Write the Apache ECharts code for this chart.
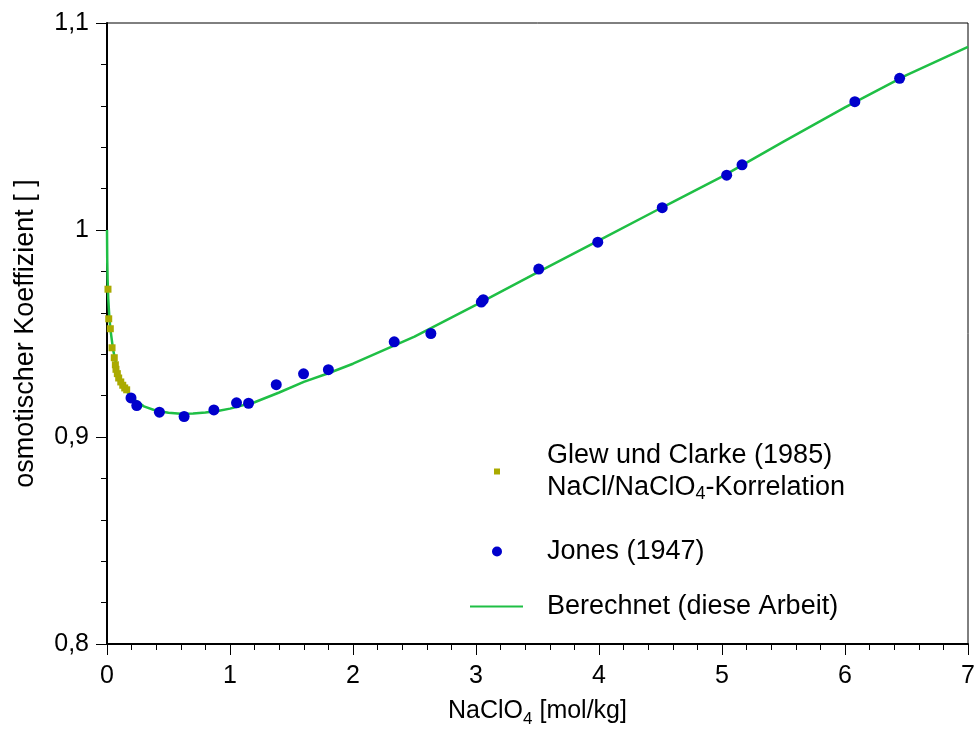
<!DOCTYPE html>
<html>
<head>
<meta charset="utf-8">
<script src="https://cdn.jsdelivr.net/npm/echarts@6/dist/echarts.min.js"></script>
<style>html,body{margin:0;padding:0;background:#fff}#c{width:979px;height:733px}</style>
</head>
<body>
<div id="c"></div>
<script>
// Glew und Clarke (1985) NaCl/NaClO4-Korrelation
const glewX = [0.008, 0.014, 0.027, 0.041, 0.059, 0.068, 0.073, 0.084, 0.095, 0.112, 0.128, 0.144, 0.160];
const glewY = [0.9714, 0.9571, 0.9523, 0.9431, 0.9383, 0.9349, 0.9327, 0.9306, 0.9285, 0.9266, 0.9250, 0.9237, 0.9228];
// Jones (1947)
const jonesX = [0.195, 0.242, 0.426, 0.627, 0.869, 1.053, 1.151, 1.376, 1.598, 1.800, 2.335, 2.633, 3.043, 3.059, 3.510, 3.990, 4.514, 5.038, 5.163, 6.080, 6.444];
const jonesY = [0.9189, 0.9152, 0.9120, 0.9099, 0.9131, 0.9165, 0.9163, 0.9253, 0.9305, 0.9325, 0.9460, 0.9500, 0.9652, 0.9663, 0.9811, 0.9941, 1.0108, 1.0265, 1.0315, 1.0620, 1.0733];
// Berechnet (diese Arbeit)
const calcX = [0, 0.002, 0.005, 0.01, 0.02, 0.03, 0.05, 0.075, 0.1, 0.15, 0.2, 0.3, 0.4, 0.5, 0.6, 0.7, 0.8, 0.9, 1.0, 1.2, 1.4, 1.6, 1.8, 2.0, 2.5, 3.0, 3.5, 4.0, 4.5, 5.0, 5.5, 6.0, 6.5, 7.0];
const calcY = [1.0, 0.985, 0.976, 0.967, 0.957, 0.951, 0.942, 0.935, 0.929, 0.923, 0.919, 0.9148, 0.9127, 0.9117, 0.9112, 0.9113, 0.9118, 0.9126, 0.9137, 0.9168, 0.9215, 0.9266, 0.9308, 0.9354, 0.9485, 0.9638, 0.9795, 0.9950, 1.0105, 1.0258, 1.0427, 1.0592, 1.0748, 1.0885];

const FONT = '"Liberation Sans", Arial, sans-serif';
const FS = 25;
const LFS = 27;
const zip = (a, b) => a.map((v, i) => [v, b[i]]);
function richFor(gap) {
  return {
    g: { width: gap, height: 10 },
    n: { fontSize: LFS, fontFamily: FONT, color: '#000', lineHeight: 32, verticalAlign: 'middle' },
    s: { fontSize: 18, fontFamily: FONT, color: '#000', lineHeight: 18, verticalAlign: 'bottom' }
  };
}
const legendNames = {
  'Glew und Clarke (1985)': '{g|}{n|Glew und Clarke (1985)}\n{g|}{n|NaCl/NaClO}{s|4}{n|-Korrelation}',
  'Jones (1947)': '{g|}{n|Jones (1947)}',
  'Berechnet (diese Arbeit)': '{g|}{n|Berechnet (diese Arbeit)}'
};
function mkLegend(name, icon, left, top, w, h, gap) {
  return {
    data: [{ name: name, icon: icon }], left: left, top: top, orient: 'vertical', padding: 0,
    itemWidth: w, itemHeight: h, selectedMode: false,
    formatter: n => legendNames[n],
    textStyle: { fontSize: LFS, fontFamily: FONT, color: '#000', rich: richFor(gap) }
  };
}
const chart = echarts.init(document.getElementById('c'), null, { renderer: 'canvas' });
chart.setOption({
  animation: false,
  backgroundColor: '#fff',
  grid: { left: 107, right: 11, top: 23, bottom: 87, show: true, borderColor: '#000', borderWidth: 1 },
  legend: [
    mkLegend('Glew und Clarke (1985)', 'rect', 494, 442, 6, 6, 42),
    mkLegend('Jones (1947)', 'circle', 492, 538, 10, 10, 40),
    mkLegend('Berechnet (diese Arbeit)', 'rect', 470, 593, 53, 2, 19)
  ],
  xAxis: {
    type: 'value', min: 0, max: 7, interval: 1,
    name: '{n|NaClO}{s|4}{n| [mol/kg]}', nameLocation: 'middle', nameGap: 50,
    nameTextStyle: { rich: { n: { fontSize: FS, fontFamily: FONT, color: '#000', lineHeight: 34, verticalAlign: 'middle' }, s: { fontSize: 17, fontFamily: FONT, color: '#000', lineHeight: 17, verticalAlign: 'bottom' } } },
    axisLine: { lineStyle: { color: '#000', width: 2 } },
    axisTick: { length: 11, lineStyle: { color: '#000', width: 1 } },
    minorTick: { show: true, splitNumber: 5, length: 6, lineStyle: { color: '#000', width: 1 } },
    splitLine: { show: false },
    axisLabel: { fontSize: FS, fontFamily: FONT, color: '#000', margin: 20 }
  },
  yAxis: {
    type: 'value', min: 0.8, max: 1.1, interval: 0.1,
    name: 'osmotischer Koeffizient [ ]', nameLocation: 'middle', nameGap: 68,
    nameTextStyle: { fontSize: LFS, fontFamily: FONT, color: '#000' },
    axisLine: { show: true, lineStyle: { color: '#000', width: 2 } },
    axisTick: { show: true, length: 11, lineStyle: { color: '#000', width: 1 } },
    minorTick: { show: true, splitNumber: 5, length: 6, lineStyle: { color: '#000', width: 1 } },
    splitLine: { show: false },
    axisLabel: { fontSize: FS, fontFamily: FONT, color: '#000', margin: 18,
      formatter: v => (Math.round(v * 10) / 10).toString().replace('.', ',') }
  },
  series: [
    { name: 'Berechnet (diese Arbeit)', type: 'line', data: zip(calcX, calcY), showSymbol: false, symbol: 'none',
      smooth: false,
      lineStyle: { color: '#1fbf45', width: 2.5 }, itemStyle: { color: '#1fbf45' }, z: 2 },
    { name: 'Glew und Clarke (1985)', type: 'scatter', data: zip(glewX, glewY), symbol: 'rect', symbolSize: 7,
      itemStyle: { color: '#aaaa00', opacity: 1 }, z: 3 },
    { name: 'Jones (1947)', type: 'scatter', data: zip(jonesX, jonesY), symbol: 'circle', symbolSize: 11,
      itemStyle: { color: '#0000cc', opacity: 1 }, z: 4 }
  ]
});
</script>
</body>
</html>
